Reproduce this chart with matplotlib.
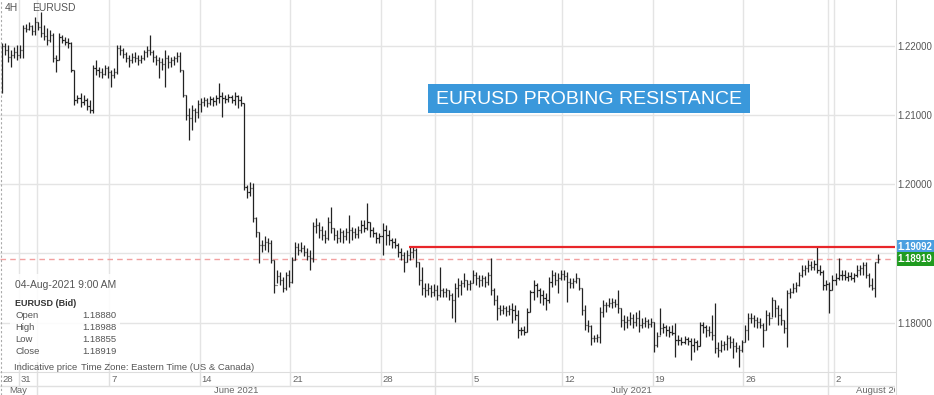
import numpy as np
import matplotlib.pyplot as plt
from matplotlib.lines import Line2D
from matplotlib.patches import Rectangle

plt.rcParams['font.family'] = ['Liberation Sans', 'DejaVu Sans']

# EURUSD 4H bars, 28-May-2021 .. 04-Aug-2021 9:00 AM (one bar per 4 hours)
first_open = 1.2133
highs = [
    1.2204, 1.2204, 1.2201, 1.2194, 1.2198, 1.2201, 1.2201, 1.2230, 1.2231, 1.2234,
    1.2230, 1.2242, 1.2234, 1.2249, 1.2230, 1.2226, 1.2223, 1.2218, 1.2187, 1.2218,
    1.2216, 1.2213, 1.2211, 1.2205, 1.2165, 1.2129, 1.2132, 1.2129, 1.2125, 1.2122,
    1.2172, 1.2179, 1.2169, 1.2168, 1.2172, 1.2171, 1.2165, 1.2168, 1.2201, 1.2201,
    1.2197, 1.2191, 1.2187, 1.2190, 1.2191, 1.2187, 1.2187, 1.2194, 1.2200, 1.2216,
    1.2194, 1.2187, 1.2184, 1.2182, 1.2194, 1.2187, 1.2184, 1.2185, 1.2191, 1.2191,
    1.2165, 1.2129, 1.2110, 1.2114, 1.2110, 1.2122, 1.2125, 1.2126, 1.2125, 1.2127,
    1.2126, 1.2129, 1.2146, 1.2133, 1.2129, 1.2130, 1.2129, 1.2133, 1.2129, 1.2127,
    1.2117, 1.1999, 1.2003, 1.2002, 1.1953, 1.1931, 1.1919, 1.1925, 1.1922, 1.1919,
    1.1891, 1.1876, 1.1873, 1.1866, 1.1873, 1.1876, 1.1895, 1.1917, 1.1915, 1.1917,
    1.1912, 1.1908, 1.1905, 1.1945, 1.1951, 1.1945, 1.1940, 1.1934, 1.1953, 1.1967,
    1.1937, 1.1934, 1.1937, 1.1934, 1.1937, 1.1956, 1.1938, 1.1937, 1.1940, 1.1948,
    1.1948, 1.1973, 1.1945, 1.1938, 1.1931, 1.1930, 1.1944, 1.1941, 1.1934, 1.1922,
    1.1922, 1.1915, 1.1908, 1.1902, 1.1905, 1.1909, 1.1909, 1.1908, 1.1888, 1.1881,
    1.1857, 1.1857, 1.1855, 1.1856, 1.1855, 1.1881, 1.1850, 1.1850, 1.1847, 1.1843,
    1.1857, 1.1865, 1.1862, 1.1872, 1.1862, 1.1862, 1.1876, 1.1873, 1.1869, 1.1869,
    1.1867, 1.1873, 1.1893, 1.1850, 1.1840, 1.1826, 1.1826, 1.1824, 1.1826, 1.1829,
    1.1826, 1.1818, 1.1794, 1.1795, 1.1821, 1.1847, 1.1862, 1.1857, 1.1850, 1.1847,
    1.1843, 1.1866, 1.1876, 1.1873, 1.1872, 1.1876, 1.1876, 1.1873, 1.1865, 1.1865,
    1.1872, 1.1865, 1.1850, 1.1826, 1.1804, 1.1797, 1.1782, 1.1784, 1.1823, 1.1833,
    1.1830, 1.1836, 1.1836, 1.1834, 1.1847, 1.1821, 1.1811, 1.1810, 1.1815, 1.1813,
    1.1815, 1.1818, 1.1807, 1.1808, 1.1805, 1.1807, 1.1801, 1.1787, 1.1821, 1.1800,
    1.1797, 1.1795, 1.1797, 1.1800, 1.1782, 1.1779, 1.1781, 1.1779, 1.1778, 1.1778,
    1.1775, 1.1801, 1.1801, 1.1797, 1.1795, 1.1811, 1.1829, 1.1772, 1.1775, 1.1774,
    1.1782, 1.1781, 1.1778, 1.1772, 1.1768, 1.1775, 1.1797, 1.1814, 1.1814, 1.1811,
    1.1808, 1.1807, 1.1800, 1.1818, 1.1815, 1.1837, 1.1833, 1.1826, 1.1821, 1.1804,
    1.1847, 1.1850, 1.1857, 1.1859, 1.1873, 1.1883, 1.1883, 1.1891, 1.1889, 1.1891,
    1.1909, 1.1883, 1.1876, 1.1862, 1.1859, 1.1869, 1.1872, 1.1893, 1.1876, 1.1876,
    1.1873, 1.1873, 1.1872, 1.1883, 1.1883, 1.1888, 1.1888, 1.1872, 1.1865, 1.1888,
    1.18988,
]
lows = [
    1.2132, 1.2187, 1.2177, 1.2169, 1.2182, 1.2179, 1.2182, 1.2182, 1.2220, 1.2223,
    1.2216, 1.2216, 1.2223, 1.2213, 1.2208, 1.2201, 1.2205, 1.2177, 1.2162, 1.2179,
    1.2204, 1.2201, 1.2197, 1.2162, 1.2114, 1.2117, 1.2111, 1.2114, 1.2107, 1.2103,
    1.2103, 1.2158, 1.2155, 1.2153, 1.2158, 1.2153, 1.2140, 1.2153, 1.2159, 1.2187,
    1.2182, 1.2177, 1.2169, 1.2175, 1.2177, 1.2172, 1.2175, 1.2179, 1.2184, 1.2187,
    1.2177, 1.2172, 1.2153, 1.2165, 1.2140, 1.2168, 1.2169, 1.2172, 1.2177, 1.2162,
    1.2126, 1.2093, 1.2064, 1.2078, 1.2090, 1.2096, 1.2104, 1.2113, 1.2111, 1.2114,
    1.2113, 1.2114, 1.2117, 1.2097, 1.2117, 1.2119, 1.2117, 1.2114, 1.2110, 1.2113,
    1.1992, 1.1980, 1.1983, 1.1945, 1.1924, 1.1886, 1.1902, 1.1905, 1.1902, 1.1886,
    1.1843, 1.1857, 1.1855, 1.1845, 1.1847, 1.1852, 1.1857, 1.1891, 1.1898, 1.1902,
    1.1896, 1.1891, 1.1876, 1.1888, 1.1930, 1.1922, 1.1919, 1.1915, 1.1919, 1.1930,
    1.1919, 1.1915, 1.1917, 1.1915, 1.1919, 1.1915, 1.1919, 1.1922, 1.1922, 1.1930,
    1.1931, 1.1934, 1.1924, 1.1924, 1.1915, 1.1915, 1.1898, 1.1912, 1.1912, 1.1908,
    1.1908, 1.1895, 1.1891, 1.1873, 1.1888, 1.1891, 1.1893, 1.1881, 1.1855, 1.1840,
    1.1837, 1.1840, 1.1837, 1.1839, 1.1833, 1.1837, 1.1837, 1.1837, 1.1833, 1.1807,
    1.1801, 1.1837, 1.1840, 1.1852, 1.1847, 1.1847, 1.1857, 1.1855, 1.1852, 1.1853,
    1.1852, 1.1855, 1.1840, 1.1826, 1.1804, 1.1811, 1.1813, 1.1810, 1.1811, 1.1800,
    1.1804, 1.1778, 1.1782, 1.1782, 1.1787, 1.1815, 1.1833, 1.1837, 1.1829, 1.1826,
    1.1818, 1.1829, 1.1852, 1.1855, 1.1843, 1.1862, 1.1862, 1.1830, 1.1850, 1.1850,
    1.1857, 1.1847, 1.1811, 1.1790, 1.1787, 1.1768, 1.1772, 1.1772, 1.1771, 1.1808,
    1.1815, 1.1823, 1.1821, 1.1823, 1.1814, 1.1794, 1.1790, 1.1792, 1.1797, 1.1792,
    1.1795, 1.1787, 1.1792, 1.1794, 1.1792, 1.1794, 1.1758, 1.1765, 1.1782, 1.1785,
    1.1781, 1.1779, 1.1782, 1.1751, 1.1768, 1.1768, 1.1769, 1.1768, 1.1746, 1.1758,
    1.1761, 1.1766, 1.1785, 1.1779, 1.1781, 1.1775, 1.1756, 1.1751, 1.1758, 1.1761,
    1.1761, 1.1763, 1.1749, 1.1758, 1.1736, 1.1758, 1.1772, 1.1775, 1.1800, 1.1794,
    1.1792, 1.1792, 1.1765, 1.1790, 1.1797, 1.1808, 1.1808, 1.1797, 1.1797, 1.1785,
    1.1765, 1.1836, 1.1843, 1.1845, 1.1853, 1.1866, 1.1869, 1.1873, 1.1876, 1.1876,
    1.1872, 1.1869, 1.1847, 1.1847, 1.1814, 1.1847, 1.1855, 1.1862, 1.1862, 1.1862,
    1.1860, 1.1862, 1.1859, 1.1866, 1.1869, 1.1869, 1.1865, 1.1852, 1.1847, 1.1837,
    1.18855,
]
closes = [
    1.2200, 1.2194, 1.2184, 1.2187, 1.2191, 1.2187, 1.2194, 1.2226, 1.2224, 1.2228,
    1.2221, 1.2234, 1.2227, 1.2218, 1.2214, 1.2208, 1.2216, 1.2182, 1.2179, 1.2213,
    1.2208, 1.2205, 1.2204, 1.2165, 1.2122, 1.2125, 1.2119, 1.2122, 1.2113, 1.2107,
    1.2168, 1.2165, 1.2162, 1.2159, 1.2168, 1.2162, 1.2158, 1.2162, 1.2197, 1.2194,
    1.2188, 1.2182, 1.2179, 1.2184, 1.2182, 1.2179, 1.2182, 1.2191, 1.2194, 1.2191,
    1.2184, 1.2179, 1.2177, 1.2174, 1.2182, 1.2177, 1.2179, 1.2182, 1.2185, 1.2165,
    1.2129, 1.2100, 1.2096, 1.2107, 1.2104, 1.2116, 1.2119, 1.2122, 1.2117, 1.2123,
    1.2120, 1.2125, 1.2127, 1.2125, 1.2123, 1.2126, 1.2122, 1.2127, 1.2122, 1.2117,
    1.1996, 1.1989, 1.1994, 1.1951, 1.1931, 1.1912, 1.1912, 1.1917, 1.1915, 1.1891,
    1.1855, 1.1867, 1.1862, 1.1850, 1.1869, 1.1859, 1.1891, 1.1909, 1.1905, 1.1908,
    1.1902, 1.1896, 1.1893, 1.1940, 1.1941, 1.1934, 1.1927, 1.1922, 1.1945, 1.1937,
    1.1927, 1.1922, 1.1931, 1.1925, 1.1931, 1.1934, 1.1931, 1.1928, 1.1934, 1.1941,
    1.1937, 1.1945, 1.1934, 1.1930, 1.1922, 1.1925, 1.1934, 1.1927, 1.1919, 1.1917,
    1.1912, 1.1902, 1.1898, 1.1888, 1.1898, 1.1902, 1.1905, 1.1888, 1.1862, 1.1850,
    1.1847, 1.1850, 1.1845, 1.1847, 1.1840, 1.1847, 1.1845, 1.1847, 1.1840, 1.1833,
    1.1850, 1.1855, 1.1857, 1.1862, 1.1856, 1.1857, 1.1869, 1.1865, 1.1862, 1.1865,
    1.1859, 1.1869, 1.1847, 1.1833, 1.1821, 1.1818, 1.1821, 1.1817, 1.1820, 1.1818,
    1.1811, 1.1790, 1.1790, 1.1787, 1.1815, 1.1845, 1.1855, 1.1847, 1.1840, 1.1836,
    1.1833, 1.1859, 1.1869, 1.1862, 1.1865, 1.1870, 1.1867, 1.1859, 1.1857, 1.1860,
    1.1865, 1.1850, 1.1818, 1.1797, 1.1795, 1.1778, 1.1778, 1.1779, 1.1815, 1.1826,
    1.1826, 1.1829, 1.1830, 1.1827, 1.1821, 1.1804, 1.1801, 1.1804, 1.1807, 1.1801,
    1.1807, 1.1797, 1.1800, 1.1802, 1.1798, 1.1801, 1.1768, 1.1781, 1.1792, 1.1794,
    1.1790, 1.1787, 1.1785, 1.1775, 1.1775, 1.1772, 1.1776, 1.1774, 1.1768, 1.1772,
    1.1766, 1.1797, 1.1794, 1.1790, 1.1787, 1.1782, 1.1763, 1.1761, 1.1768, 1.1769,
    1.1778, 1.1772, 1.1766, 1.1763, 1.1761, 1.1772, 1.1790, 1.1807, 1.1807, 1.1804,
    1.1801, 1.1797, 1.1790, 1.1811, 1.1807, 1.1833, 1.1821, 1.1811, 1.1804, 1.1792,
    1.1843, 1.1845, 1.1850, 1.1855, 1.1869, 1.1876, 1.1879, 1.1883, 1.1881, 1.1885,
    1.1876, 1.1873, 1.1855, 1.1856, 1.1847, 1.1862, 1.1865, 1.1869, 1.1869, 1.1866,
    1.1867, 1.1865, 1.1869, 1.1876, 1.1879, 1.1883, 1.1869, 1.1855, 1.1850, 1.1888,
    1.18919,
]
opens = [first_open] + closes[:-1]

resistance = 1.19092
last_price = closes[-1]

# axis labels
ytick_vals = [1.18, 1.20, 1.21, 1.22]
grid_levels = [1.18, 1.19, 1.20, 1.21, 1.22]
week_labels = ['28', '31', '7', '14', '21', '28', '5', '12', '19', '26', '2']
week_lines = [-0.5, 5.5, 35.5, 65.5, 95.5, 125.5, 155.5, 185.5, 215.5, 245.5, 275.5]
month_labels = ['May', 'June 2021', 'July 2021', 'August 2021']
month_lines = [11.5, 143.5, 273.5]
month_label_pos = [5.4, 77.5, 208.5, 291.8]

W, H = 934, 395
AXW, AXH = 895, 372
fig = plt.figure(figsize=(W / 100, H / 100), dpi=100)
ax = fig.add_axes([0, (H - AXH) / H, AXW / W, AXH / H])
xlim = (-0.66, 295.7)
ax.set_xlim(*xlim)
ax.set_ylim(1.17288, 1.2266)


def px(x, y):
    # pixel position inside the plot -> axes fraction
    return x / AXW, 1 - y / AXH


for s in ax.spines.values():
    s.set_visible(False)
ax.spines['bottom'].set_visible(True)
ax.spines['bottom'].set_color('#dddddd')

ax.tick_params(axis='x', length=0, labelbottom=False)
ax.yaxis.tick_right()
ax.set_yticks(ytick_vals)
ax.set_yticklabels([f'{v:.5f}' for v in ytick_vals])
ax.tick_params(axis='y', length=0, pad=2, labelsize=6.9, labelcolor='#555555')

# grid
gcol = '#e4e4e4'
for v in grid_levels:
    ax.axhline(v, color=gcol, lw=1, zorder=0)
for b in week_lines[1:] + month_lines:
    ax.axvline(b, color=gcol, lw=1, zorder=0)

# OHLC bars
x = np.arange(len(closes))
bar_col = '#222222'
ax.vlines(x, lows, highs, color=bar_col, lw=0.9, zorder=2)
ax.hlines(opens, x - 0.38, x, color=bar_col, lw=0.9, zorder=2)
ax.hlines(closes, x, x + 0.38, color=bar_col, lw=0.9, zorder=2)

# resistance and last price lines
ax.hlines(resistance, 134.8, xlim[1], color='#e8262a', lw=1.6, zorder=3)
ax.axhline(last_price, color='#f2a0a0', lw=1, ls=(0, (4, 3)), zorder=1)

ytr = ax.get_yaxis_transform()
for val, col in [(resistance, '#4a9fe0'), (last_price, '#1f9b1f')]:
    ax.text(1 + 2.5 / AXW, val, f'{val:.5f}', transform=ytr, ha='left', va='center',
            fontsize=6.9, color='white', fontweight='bold', clip_on=False, zorder=6,
            bbox=dict(boxstyle='square,pad=0.2', fc=col, ec='none'))

# header
ax.text(*px(5, 8), '4H', transform=ax.transAxes, fontsize=7.5, color='#555555', va='center')
ax.text(*px(32, 8), 'EURUSD', transform=ax.transAxes, fontsize=7.5, color='#555555', va='center')

# title box
x0, y0 = px(428, 113)
ax.add_patch(Rectangle((x0, y0), 322 / AXW, 29 / AXH, transform=ax.transAxes,
                       fc='#3a98db', ec='none', zorder=5))
ax.text(*px(589, 99), 'EURUSD PROBING RESISTANCE', transform=ax.transAxes,
        ha='center', va='center', fontsize=14, color='white', zorder=6)

# info box
x0, y0 = px(10, 362)
ax.add_patch(Rectangle((x0, y0), 110 / AXW, 88 / AXH, transform=ax.transAxes,
                       fc='white', ec='none', alpha=0.88, zorder=4))
tc = '#555555'
ax.text(*px(15, 285), '04-Aug-2021 9:00 AM', transform=ax.transAxes, fontsize=7.5,
        color=tc, va='center', zorder=6)
ax.text(*px(15, 303), 'EURUSD (Bid)', transform=ax.transAxes, fontsize=6.5,
        color='#333333', fontweight='bold', va='center', zorder=6)
info = [('Open', opens[-1]), ('High', highs[-1]), ('Low', lows[-1]), ('Close', closes[-1])]
for k, (name, val) in enumerate(info):
    yy = 316 + 12 * k
    ax.text(*px(15, yy), name, transform=ax.transAxes, fontsize=6.8, color=tc,
            va='center', zorder=6)
    ax.text(*px(82, yy), f'{val:.5f}', transform=ax.transAxes, fontsize=6.8, color=tc,
            va='center', zorder=6)
ax.text(*px(14, 367), 'Indicative price', transform=ax.transAxes, fontsize=6.8,
        color=tc, va='center', zorder=6)
ax.text(*px(81, 367), 'Time Zone: Eastern Time (US & Canada)', transform=ax.transAxes,
        fontsize=6.8, color=tc, va='center', zorder=6)

# date band below the plot
ax2 = fig.add_axes([0, 0, AXW / W, (H - AXH) / H])
ax2.set_xlim(*xlim)
ax2.set_ylim(0, 1)
ax2.axis('off')
mid = 9 / (H - AXH)
ax2.axhline(mid, color='#e0e0e0', lw=1)
ax2.vlines(week_lines[1:], mid, 1, color='#e0e0e0', lw=1)
ax2.vlines(month_lines, 0, 1, color='#e0e0e0', lw=1)
for b, lab in zip(week_lines, week_labels):
    ax2.text(b + 0.6, 0.69, lab, fontsize=6.8, color='#666666', ha='left', va='center')
for b, lab in zip(month_label_pos, month_labels):
    ax2.text(b, 0.2, lab, fontsize=6.8, color='#666666', ha='center', va='center',
             clip_on=True)

# frame lines
fig.add_artist(Line2D([0.5 / W] * 2, [0, 1], color='#aaaaaa', lw=0.8, ls=(0, (2, 2))))
fig.add_artist(Line2D([(AXW + 0.5) / W] * 2, [0, 1], color='#dddddd', lw=0.8))

fig.savefig('out.png', dpi=100)
